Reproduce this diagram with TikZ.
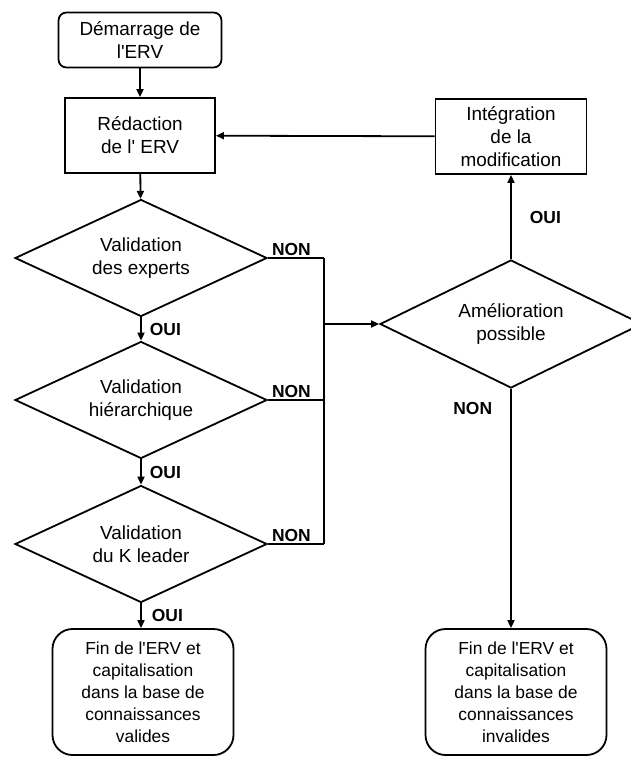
\documentclass[tikz,border=0pt]{standalone}
\usepackage{fontspec}
\setmainfont{Liberation Sans}[Ligatures=TeXOff]
\usetikzlibrary{arrows.meta,shapes.geometric,positioning}

\begin{document}
\begin{tikzpicture}[x=1bp,y=-1bp,font=\fontsize{19}{23}\selectfont,
 line width=1.8bp,>={Triangle[length=8bp,width=7bp]},
 etape/.style={draw,rectangle,align=center,inner sep=0pt,minimum width=150bp,minimum height=75bp},
 debut/.style={etape,rounded corners=8bp,minimum width=163bp,minimum height=55bp},
 fin/.style={etape,rounded corners=20bp,minimum width=181bp,minimum height=126bp,font=\fontsize{17.5}{22}\selectfont},
 test/.style={draw,diamond,aspect=2,align=center,inner sep=0pt,minimum width=252bp,minimum height=117bp},
 rep/.style={font=\bfseries\fontsize{17.5}{19}\selectfont,inner sep=1pt}]
\useasboundingbox (0,0) rectangle (631,758);
% colonne de gauche
\node[debut] (dem) at (140,40) {Démarrage de\\l'ERV};
\node[etape] (red) at (140,135.5) {Rédaction\\de l' ERV};
\node[test] (vexp) at (141,258) {Validation\\des experts};
\node[test] (vhie) at (141,400) {Validation\\hiérarchique};
\node[test] (vkl) at (141,544) {Validation\\du K leader};
\node[fin] (finv) at (143,692) {Fin de l'ERV et\\capitalisation\\dans la base de\\connaissances\\valides};
% colonne de droite
\node[test,minimum width=262bp,minimum height=128bp] (amel) at (511,324) {Amélioration\\possible};
\node[etape,minimum width=151bp] (integ) at (511,136.5) {Intégration\\de la\\modification};
\node[fin] (fini) at (516,692) {Fin de l'ERV et\\capitalisation\\dans la base de\\connaissances\\invalides};
% liaisons
\draw[->] (dem) -- (red);
\draw[->] (red) -- (vexp);
\draw[->] (vexp) -- node[rep,right=7bp]{OUI} (vhie);
\draw[->] (vhie) -- node[rep,right=7bp]{OUI} (vkl);
\draw[->] (vkl.south) -- node[rep,right=9bp]{OUI} (vkl.south |- finv.north);
\draw (vexp.east) -- node[rep,above,pos=.42]{NON} ++(56,0) coordinate (n1);
\draw (vhie.east) -- node[rep,above,pos=.42]{NON} ++(56,0) coordinate (n2);
\draw (vkl.east) -- node[rep,above,pos=.42]{NON} ++(56,0) coordinate (n3);
\draw (n1) -- (n3);
\draw[->] (n1 |- amel.west) -- (amel.west);
\draw[->] (amel) -- node[rep,right=17bp]{OUI} (integ);
\draw[->] (integ) -- (red);
\draw[->] (amel.south) -- node[rep,left=17bp,pos=.08]{NON} (amel.south |- fini.north);
\end{tikzpicture}
\end{document}
